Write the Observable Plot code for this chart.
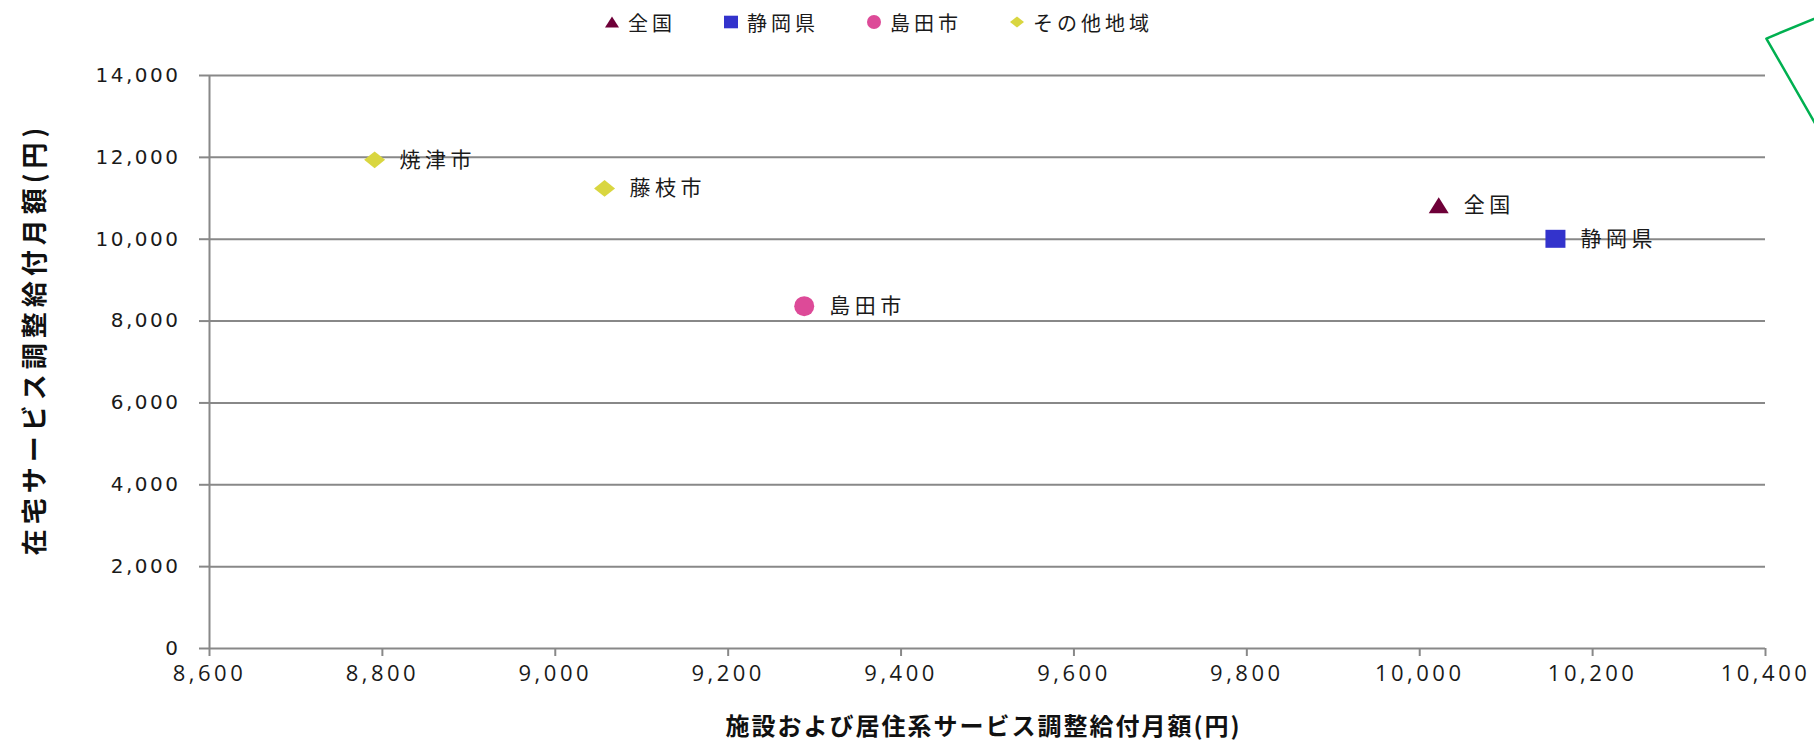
<!DOCTYPE html>
<html>
<head>
<meta charset="utf-8">
<script src="https://cdn.jsdelivr.net/npm/d3@7"></script>
<script src="https://cdn.jsdelivr.net/npm/@observablehq/plot@0.6"></script>
<style>
  body { margin: 0; background: #fff; }
  #wrap { position: relative; width: 1814px; height: 743px; overflow: hidden; background: #fff; }
  #legend { position: absolute; top: 0; left: 0; height: 44px; display: flex; align-items: center;
            padding-left: 604px; gap: 47px; font-family: "Noto Sans CJK JP"; font-size: 20px;
            letter-spacing: 4px; color: #1a1a1a; z-index: 2; }
  .item { display: flex; align-items: center; }
  .item svg { margin-right: 8px; }
</style>
</head>
<body>
<div id="wrap">
  <div id="legend"></div>
  <div id="chart"></div>
</div>
<script>
// ---- data ----
const regions = ["全国", "静岡県", "島田市", "焼津市", "藤枝市"];
const regionGroups = ["全国", "静岡県", "島田市", "その他地域", "その他地域"];
const facilityValues = [10022, 10157, 9288, 8791, 9057];   // x: 施設および居住系サービス調整給付月額(円)
const homeValues = [10830, 10010, 8365, 11940, 11240];      // y: 在宅サービス調整給付月額(円)

const legendGroups = ["全国", "静岡県", "島田市", "その他地域"];
const groupColors = ["#6E0038", "#3333CC", "#DD4A98", "#D9D640"];
const groupSymbols = ["triangle", "square", "circle", "diamond"];

const xTicks = [8600, 8800, 9000, 9200, 9400, 9600, 9800, 10000, 10200, 10400];
const yTicks = [0, 2000, 4000, 6000, 8000, 10000, 12000, 14000];

const xTitle = "施設および居住系サービス調整給付月額(円)";
const yTitle = "在宅サービス調整給付月額(円)";

// partially visible green callout outline at the top-right corner
const calloutX = [10480, 10401, 10480];
const calloutY = [15595, 14903, 11996];

// ---- build ----
const data = regions.map((name, i) => ({name, group: regionGroups[i], x: facilityValues[i], y: homeValues[i]}));
const callout = calloutX.map((x, i) => ({x, y: calloutY[i]}));

const symbolDefs = {
  triangle: {draw(ctx, size) { const r = Math.sqrt(size / Math.PI); ctx.moveTo(0, -0.8 * r); ctx.lineTo(r, 0.8 * r); ctx.lineTo(-r, 0.8 * r); ctx.closePath(); }},
  square: {draw(ctx, size) { const r = Math.sqrt(size / Math.PI); ctx.rect(-r, -0.9 * r, 2 * r, 1.8 * r); }},
  circle: {draw(ctx, size) { const r = Math.sqrt(size / Math.PI); ctx.moveTo(r, 0); ctx.arc(0, 0, r, 0, 2 * Math.PI); }},
  diamond: {draw(ctx, size) { const r = Math.sqrt(size / Math.PI); ctx.moveTo(-r, 0); ctx.lineTo(0, -0.8 * r); ctx.lineTo(r, 0); ctx.lineTo(0, 0.8 * r); ctx.closePath(); }}
};
const symbolR = {triangle: 10, square: 10, circle: 10, diamond: 10.5};

const dotMarks = legendGroups.map((g, i) =>
  Plot.dot(data.filter(d => d.group === g), {
    x: "x", y: "y",
    symbol: () => symbolDefs[groupSymbols[i]],
    r: symbolR[groupSymbols[i]],
    fill: groupColors[i], stroke: "none"
  })
);

const chart = Plot.plot({
  width: 1814,
  height: 743,
  marginLeft: 209,
  marginRight: 49,
  marginTop: 75,
  marginBottom: 95,
  style: {background: "#fff"},
  x: {domain: [xTicks[0], xTicks[xTicks.length - 1]]},
  y: {domain: [yTicks[0], yTicks[yTicks.length - 1]]},
  symbol: {type: "identity"},
  marks: [
    Plot.ruleY(yTicks, {stroke: "#888", strokeWidth: 2}),
    Plot.ruleX([xTicks[0]], {stroke: "#888", strokeWidth: 2}),
    Plot.axisY({ticks: yTicks, tickSize: 10, tickPadding: 19, tickFormat: d3.format(","),
                stroke: "#888", strokeWidth: 2, fill: "#1a1a1a",
                fontSize: 20, fontFamily: "DejaVu Sans", label: null}),
    Plot.axisX({ticks: xTicks, tickSize: 8, tickPadding: 9, tickFormat: d3.format(","),
                stroke: "#888", strokeWidth: 2, fill: "#1a1a1a",
                fontSize: 22, fontFamily: "Open Sans", label: null}),
    ...dotMarks,
    Plot.text(data, {x: "x", y: "y", text: "name", dx: 25, textAnchor: "start",
                     fontSize: 21, fontFamily: "Noto Sans CJK JP", fill: "#1a1a1a"}),
    Plot.text([yTitle], {frameAnchor: "left", dx: -174, dy: -23, rotate: -90,
                         textAnchor: "middle", lineAnchor: "middle",
                         fontSize: 26, fontWeight: "bold", fontFamily: "Noto Sans CJK JP", fill: "#111"}),
    Plot.text([xTitle], {frameAnchor: "bottom", dx: -4, dy: 79,
                         textAnchor: "middle", lineAnchor: "middle",
                         fontSize: 24, fontWeight: "bold", fontFamily: "Noto Sans CJK JP", fill: "#111"}),
    Plot.line(callout, {x: "x", y: "y", stroke: "#00B050", strokeWidth: 2.5})
  ]
});

// text spacing to match the wide glyphs of the original
d3.select(chart).selectAll('g[aria-label="y-axis tick label"]').style("letter-spacing", "2.5px");
d3.select(chart).selectAll('g[aria-label="x-axis tick label"]').style("letter-spacing", "3.5px");
const textGroups = d3.select(chart).selectAll('g[aria-label="text"]').nodes();
if (textGroups[0]) textGroups[0].style.letterSpacing = "4.5px";
if (textGroups[1]) textGroups[1].style.letterSpacing = "5px";
if (textGroups[2]) textGroups[2].style.letterSpacing = "2px";

document.getElementById("chart").appendChild(chart);

// ---- legend ----
const legend = d3.select("#legend");
legendGroups.forEach((g, i) => {
  const item = legend.append("div").attr("class", "item");
  const s = item.append("svg").attr("width", 16).attr("height", 16).attr("viewBox", "-8 -8 16 16");
  const sym = groupSymbols[i];
  const path = d3.path();
  symbolDefs[sym].draw(path, Math.PI * 7 * 7);
  s.append("path").attr("d", path.toString()).attr("fill", groupColors[i]);
  item.append("span").text(g);
});
</script>
</body>
</html>
